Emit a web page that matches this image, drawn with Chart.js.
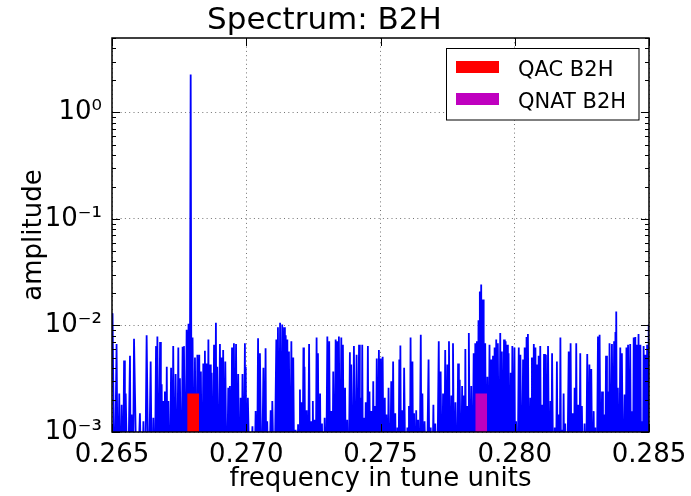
<!DOCTYPE html>
<html>
<head>
<meta charset="utf-8">
<script src="https://cdn.jsdelivr.net/npm/chart.js@4.4.1/dist/chart.umd.min.js"></script>
<style>
html,body{margin:0;padding:0;background:#fff;}
#wrap{width:691px;height:496px;position:relative;}
</style>
</head>
<body>
<div id="wrap"><canvas id="c" width="691" height="496"></canvas></div>
<script>
const titleText = 'Spectrum: B2H';
const xLabel = 'frequency in tune units';
const yLabel = 'amplitude';
const xMin = 0.265, xMax = 0.285;
const xTickValues = [0.265, 0.270, 0.275, 0.280, 0.285];
const xTickLabels = ['0.265', '0.270', '0.275', '0.280', '0.285'];
const yMin = 0.001, yMax = 5;
const yTickValues = [0.001, 0.01, 0.1, 1];
const yTickLabels = ['10\u207B\u00B3', '10\u207B\u00B2', '10\u207B\u00B9', '10\u2070'];

// spectrum peaks (frequency, amplitude)
const peakFreq = [
0.26502,0.26517,0.26527,0.26536,0.26545,0.26551,0.26567,0.26573,0.26582,0.26604,0.26617,0.26629,0.26644,0.26654,0.26664,0.26669,0.26679,0.26685,0.26691,0.26697,0.26704,0.26710,0.26720,0.26728,0.26737,0.26747,0.26753,0.26763,0.26768,0.26778,0.26785,0.26793,0.26800,0.26809,0.26818,0.26825,0.26831,0.26840,0.26846,0.26852,0.26859,0.26865,0.26871,0.26880,0.26887,0.26892,0.26902,0.26908,0.26914,0.26922,0.26933,0.26939,0.26947,0.26954,0.26962,0.26970,0.26979,0.26986,0.26995,
0.26998,0.27006,0.27023,0.27035,0.27044,0.27051,0.27064,0.27072,0.27078,0.27091,0.27097,0.27112,0.27118,0.27126,0.27134,0.27141,0.27147,0.27153,0.27159,0.27168,0.27175,0.27184,0.27193,0.27200,0.27205,0.27213,0.27217,0.27225,0.27234,0.27242,0.27248,0.27255,0.27262,0.27267,0.27275,0.27282,0.27292,0.27302,0.27309,0.27317,0.27324,0.27333,0.27339,0.27345,0.27354,0.27360,0.27368,0.27376,0.27386,0.27391,0.27401,0.27411,0.27420,0.27426,0.27432,0.27438,0.27445,0.27453,0.27459,0.27466,0.27473,0.27479,0.27486,0.27494,
0.27501,0.27508,0.27516,0.27522,0.27530,0.27540,0.27547,0.27555,0.27563,0.27570,0.27574,0.27580,0.27588,0.27600,0.27606,0.27612,0.27619,0.27625,0.27633,0.27640,0.27650,0.27656,0.27664,0.27679,0.27687,0.27697,0.27704,0.27717,0.27724,0.27733,0.27741,0.27749,0.27755,0.27764,0.27770,0.27779,0.27789,0.27795,0.27804,0.27811,0.27816,0.27823,0.27829,0.27838,0.27847,0.27853,0.27859,0.27865,0.27870,0.27875,0.27882,0.27885,0.27890,0.27898,0.27906,0.27913,0.27919,0.27925,0.27931,0.27937,0.27946,0.27952,0.27960,0.27966,0.27972,0.27977,0.27985,0.27991,
0.27999,0.28005,0.28015,0.28021,0.28031,0.28037,0.28044,0.28049,0.28058,0.28064,0.28071,0.28077,0.28083,0.28089,0.28095,0.28102,0.28109,0.28116,0.28124,0.28133,0.28139,0.28149,0.28157,0.28164,0.28170,0.28176,0.28182,0.28188,0.28201,0.28208,0.28216,0.28223,0.28229,0.28236,0.28244,0.28250,0.28260,0.28270,0.28278,0.28285,0.28294,0.28300,0.28310,0.28316,0.28325,0.28332,0.28340,0.28347,0.28353,0.28362,0.28370,0.28375,0.28378,0.28384,0.28393,0.28399,0.28409,0.28416,0.28422,0.28430,0.28437,0.28443,0.28449,0.28455,0.28461,0.28468,0.28474,0.28480,0.28486,0.28493,0.28499
];
const peakAmp = [
0.013,0.0067,0.0023,0.0018,0.0047,0.0023,0.0052,0.00146,0.0075,0.0015,0.00126,0.0081,0.0046,0.00136,0.0064,0.0079,0.0070,0.0028,0.00195,0.0024,0.0041,0.00195,0.0040,0.0064,0.0035,0.0062,0.0032,0.0063,0.0064,0.0091,0.0104,2.27,0.0077,0.0050,0.0053,0.0053,0.0037,0.0044,0.0058,0.0044,0.0074,0.0043,0.0036,0.0066,0.0106,0.0041,0.0067,0.0050,0.0059,0.0046,0.0026,0.0027,0.0062,0.0068,0.0067,0.0035,0.0021,0.0035,0.0068,
0.0041,0.0021,0.00113,0.00157,0.0076,0.0055,0.0040,0.0061,0.00126,0.0016,0.00195,0.0074,0.0096,0.0106,0.0102,0.0096,0.0081,0.0074,0.0057,0.0071,0.0050,0.00105,0.00118,0.0025,0.0019,0.0062,0.0041,0.0016,0.0067,0.00126,0.00195,0.0013,0.0077,0.0055,0.0023,0.0012,0.00136,0.0079,0.0071,0.00157,0.0037,0.0074,0.0071,0.0079,0.0077,0.0066,0.0026,0.0013,0.0056,0.0043,0.0064,0.0053,0.0066,0.0021,0.0066,0.00136,0.0019,0.0064,0.0024,0.00157,0.0030,0.00175,0.0049,0.0059,
0.0049,0.0051,0.0021,0.00146,0.0026,0.0030,0.0046,0.0015,0.0011,0.0048,0.0065,0.0016,0.0040,0.0011,0.00175,0.0077,0.0046,0.0015,0.0016,0.0013,0.0082,0.0023,0.00126,0.0048,0.0011,0.0018,0.0012,0.0071,0.0037,0.0023,0.0059,0.0043,0.0071,0.0022,0.0068,0.0019,0.0044,0.0031,0.0027,0.0022,0.0060,0.00175,0.0085,0.0027,0.0055,0.0068,0.0071,0.0112,0.0209,0.0242,0.0175,0.0085,0.0068,0.0033,0.0066,0.0048,0.0052,0.0062,0.0074,0.0068,0.0085,0.0057,0.0074,0.0071,0.0066,0.0055,0.0036,0.0064,
0.0062,0.00126,0.0062,0.0053,0.0048,0.0062,0.0078,0.0083,0.0021,0.0050,0.0067,0.0062,0.0043,0.0052,0.0064,0.0018,0.0054,0.0053,0.0064,0.00195,0.0055,0.0011,0.0046,0.00146,0.0077,0.00105,0.0023,0.0012,0.0057,0.0068,0.0015,0.0026,0.0068,0.0018,0.0055,0.00175,0.0012,0.0054,0.0043,0.0039,0.00157,0.0011,0.0079,0.0082,0.0024,0.00146,0.0052,0.0024,0.0068,0.0067,0.0071,0.0087,0.0135,0.0026,0.0062,0.0055,0.00225,0.0062,0.0066,0.0067,0.00157,0.0077,0.0078,0.0066,0.0083,0.0066,0.00126,0.0064,0.0053,0.0066,0.0102
];
// the dips between peaks all fall below the axis bottom
const belowAxis = 0.0002;

// tune markers
const tuneNames = ['QAC B2H', 'QNAT B2H'];
const tuneValues = [0.26802, 0.27875];
const tuneBarHeights = [0.0023, 0.0023];
const tuneBarWidth = 0.00044;
const tuneColors = ['#ff0000', '#bf00bf'];

const FONT = 'DejaVu Sans';

const spectrum = [];
for (let i = 0; i < peakFreq.length; i++) {
  spectrum.push({x: peakFreq[i], y: peakAmp[i]});
  if (i < peakFreq.length - 1) {
    spectrum.push({x: (peakFreq[i] + peakFreq[i + 1]) / 2, y: belowAxis});
  }
}

const tuneDatasets = tuneValues.map((v, i) => ({
  label: tuneNames[i],
  data: [{x: v - tuneBarWidth / 2, y: tuneBarHeights[i]}, {x: v + tuneBarWidth / 2, y: tuneBarHeights[i]}],
  fill: 'start',
  backgroundColor: tuneColors[i],
  borderColor: 'rgba(0,0,0,0)',
  borderWidth: 0,
  pointRadius: 0,
  tension: 0,
  order: 0,
  clip: 0
}));

const framePlugin = {
  id: 'frame',
  afterDraw(chart) {
    const {ctx, chartArea: a, scales: {x, y}} = chart;
    ctx.save();
    ctx.strokeStyle = '#000';
    ctx.lineWidth = 1;
    const majorLen = 8, minorLen = 4;
    ctx.beginPath();
    xTickValues.forEach(v => {
      const px = Math.round(x.getPixelForValue(v)) + 0.5;
      ctx.moveTo(px, a.bottom); ctx.lineTo(px, a.bottom - majorLen);
      ctx.moveTo(px, a.top); ctx.lineTo(px, a.top + majorLen);
    });
    yTickValues.forEach(v => {
      const py = Math.round(y.getPixelForValue(v)) + 0.5;
      ctx.moveTo(a.left, py); ctx.lineTo(a.left + majorLen, py);
      ctx.moveTo(a.right, py); ctx.lineTo(a.right - majorLen, py);
    });
    yTickValues.forEach(d => {
      for (let m = 2; m <= 9; m++) {
        const v = d * m;
        if (v > yMax) continue;
        const py = Math.round(y.getPixelForValue(v)) + 0.5;
        ctx.moveTo(a.left, py); ctx.lineTo(a.left + minorLen, py);
        ctx.moveTo(a.right, py); ctx.lineTo(a.right - minorLen, py);
      }
    });
    ctx.stroke();
    ctx.lineWidth = 1.5;
    ctx.strokeRect(a.left, a.top, a.right - a.left, a.bottom - a.top);

    // legend
    const lx = 446.5, ly = 48.5, lw = 192.5, lh = 71.5;
    ctx.fillStyle = '#fff';
    ctx.fillRect(lx, ly, lw, lh);
    ctx.lineWidth = 1;
    ctx.strokeStyle = '#000';
    ctx.strokeRect(lx, ly, lw, lh);
    ctx.font = '21px "' + FONT + '"';
    ctx.textBaseline = 'alphabetic';
    ctx.textAlign = 'left';
    tuneNames.forEach((name, i) => {
      const ry = 61 + i * 32;
      ctx.fillStyle = tuneColors[i];
      ctx.fillRect(456, ry, 43, 12);
      ctx.fillStyle = '#000';
      ctx.fillText(name, 518, ry + 14.5);
    });
    ctx.restore();
  }
};

new Chart(document.getElementById('c'), {
  type: 'line',
  data: {
    datasets: [
      ...tuneDatasets,
      {
        label: 'spectrum',
        data: spectrum,
        borderColor: '#0000ff',
        borderWidth: 1.8,
        pointRadius: 0,
        fill: false,
        tension: 0,
        borderJoinStyle: 'bevel',
        order: 1,
        clip: 0
      }
    ]
  },
  options: {
    responsive: false,
    animation: false,
    events: [],
    layout: {padding: {top: 0, right: 42, left: 0, bottom: 0}},
    plugins: {
      legend: {display: false},
      tooltip: {enabled: false},
      title: {
        display: true,
        text: titleText,
        color: '#000',
        font: {family: FONT, size: 31, weight: 'normal', lineHeight: 1.1},
        padding: {top: 3.75, bottom: 0.15}
      }
    },
    scales: {
      x: {
        type: 'linear',
        min: xMin,
        max: xMax,
        afterBuildTicks(s) { s.ticks = xTickValues.map(v => ({value: v})); },
        afterFit(s) { s.height = 64; s.paddingLeft = 0; s.paddingRight = 0; },
        ticks: {
          autoSkip: false,
          maxRotation: 0,
          padding: 8,
          color: '#000',
          font: {family: FONT, size: 26},
          callback(v) { const i = xTickValues.findIndex(t => Math.abs(t - v) < 1e-9); return i >= 0 ? xTickLabels[i] : ''; }
        },
        grid: {color: 'rgba(0,0,0,0.55)', lineWidth: 1, drawTicks: false},
        border: {display: false, dash: [1, 3.3]},
        title: {display: true, text: xLabel, color: '#000', font: {family: FONT, size: 26}, padding: {top: 0, bottom: 1}}
      },
      y: {
        type: 'logarithmic',
        min: yMin,
        max: yMax,
        afterBuildTicks(s) { s.ticks = yTickValues.map(v => ({value: v})); },
        afterFit(s) { s.width = 112; s.paddingTop = 0; s.paddingBottom = 0; },
        ticks: {
          autoSkip: false,
          padding: 10,
          color: '#000',
          font: {family: FONT, size: 26},
          callback(v) { const i = yTickValues.findIndex(t => Math.abs(t - v) / t < 1e-6); return i >= 0 ? yTickLabels[i] : ''; }
        },
        grid: {color: 'rgba(0,0,0,0.55)', lineWidth: 1, drawTicks: false},
        border: {display: false, dash: [1, 3.3]},
        title: {display: true, text: yLabel, color: '#000', font: {family: FONT, size: 26}, padding: {top: 18.4, bottom: 0}}
      }
    }
  },
  plugins: [framePlugin]
});
</script>
</body>
</html>
